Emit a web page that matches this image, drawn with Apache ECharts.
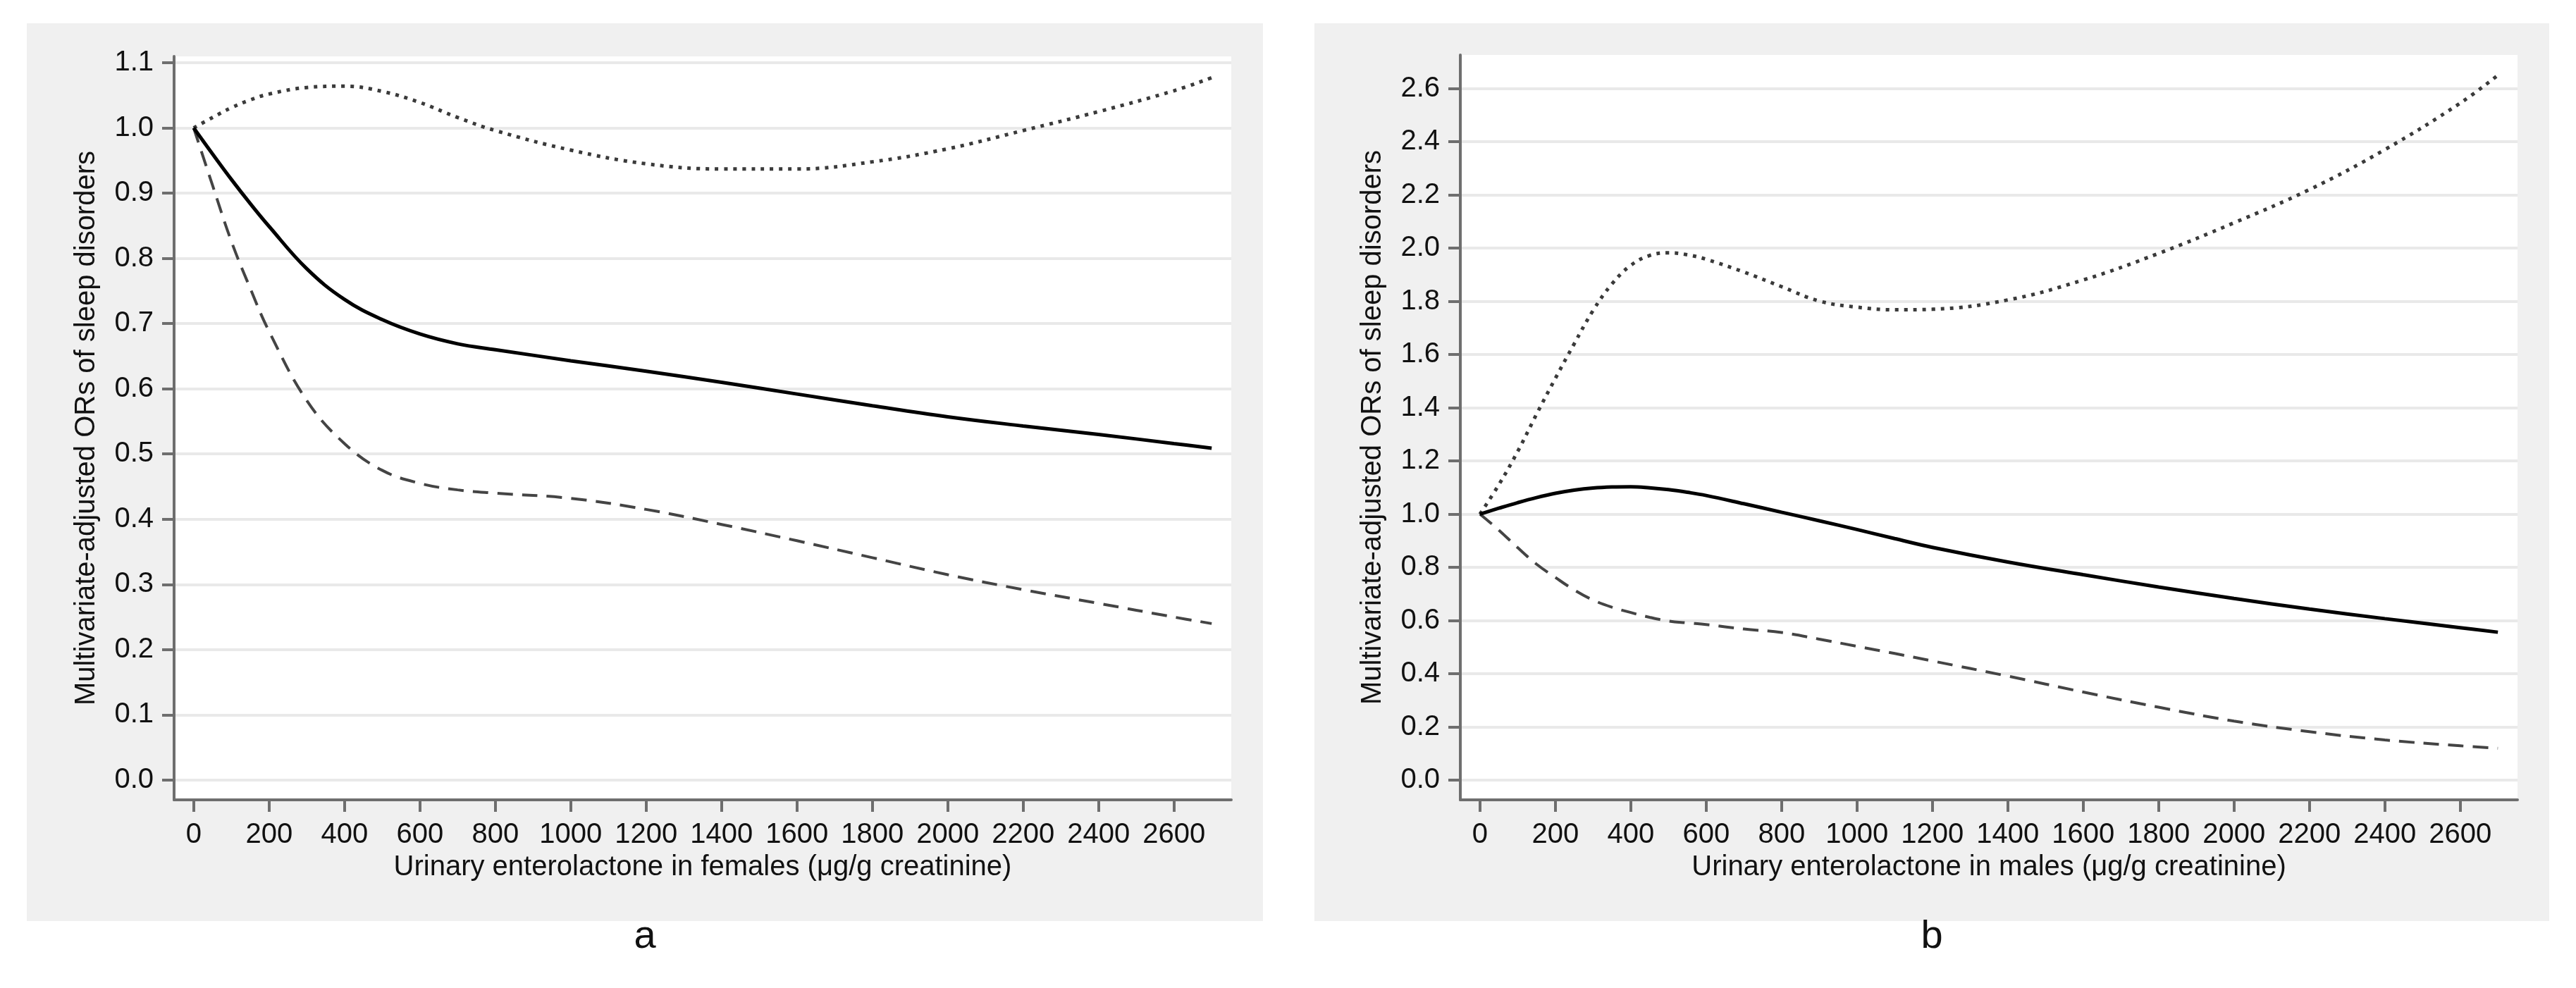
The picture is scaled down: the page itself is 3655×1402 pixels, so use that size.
<!DOCTYPE html>
<html>
<head>
<meta charset="utf-8">
<script src="https://cdn.jsdelivr.net/npm/echarts@6/dist/echarts.min.js"></script>
<style>
html,body{margin:0;padding:0;background:#fff;}
#chart{width:3655px;height:1402px;}
</style>
</head>
<body>
<div id="chart"></div>
<script>
// ---- Data ----
const xTicks = [0,200,400,600,800,1000,1200,1400,1600,1800,2000,2200,2400,2600];
const yTicksA = [0,0.1,0.2,0.3,0.4,0.5,0.6,0.7,0.8,0.9,1.0,1.1];
const yTicksB = [0,0.2,0.4,0.6,0.8,1.0,1.2,1.4,1.6,1.8,2.0,2.2,2.4,2.6];

const xA = [0,50,100,150,200,300,400,500,600,700,800,1000,1200,1400,1600,1800,2000,2200,2400,2600,2700];
const orA    = [1.0,0.960,0.921,0.884,0.849,0.784,0.737,0.706,0.684,0.669,0.660,0.643,0.627,0.610,0.592,0.574,0.557,0.543,0.530,0.516,0.509];
const lowerA = [1.0,0.912,0.826,0.754,0.688,0.582,0.516,0.475,0.455,0.445,0.440,0.432,0.415,0.392,0.367,0.341,0.315,0.292,0.271,0.250,0.240];
const upperA = [1.0,1.016,1.031,1.043,1.052,1.062,1.064,1.056,1.039,1.016,0.996,0.966,0.945,0.937,0.937,0.948,0.968,0.996,1.025,1.057,1.077];

const xB = [0,50,100,150,200,250,300,350,400,450,500,550,600,700,800,900,1000,1100,1200,1400,1600,1800,2000,2200,2400,2600,2700];
const orB    = [1.0,1.022,1.043,1.062,1.078,1.090,1.098,1.102,1.103,1.099,1.092,1.082,1.070,1.039,1.007,0.975,0.942,0.908,0.875,0.820,0.772,0.726,0.683,0.643,0.607,0.573,0.556];
const lowerB = [1.0,0.940,0.874,0.812,0.762,0.715,0.677,0.650,0.630,0.612,0.598,0.591,0.585,0.568,0.555,0.530,0.503,0.476,0.448,0.391,0.331,0.274,0.222,0.182,0.151,0.129,0.120];
const upperB = [1.0,1.110,1.235,1.375,1.510,1.640,1.765,1.865,1.935,1.972,1.982,1.975,1.958,1.910,1.855,1.801,1.778,1.768,1.770,1.805,1.880,1.980,2.095,2.220,2.370,2.545,2.650];

const xTitleA = 'Urinary enterolactone in females (μg/g creatinine)';
const xTitleB = 'Urinary enterolactone in males (μg/g creatinine)';
const yTitle = 'Multivariate-adjusted ORs of sleep disorders';

// ---- Build ----
const pairs = (xs, ys) => xs.map((x, i) => [x, ys[i]]);
const FONT = 'Liberation Sans, Arial, sans-serif';
const axisGray = '#6e6e6e';

function xAxisCfg(idx, title) {
  return {
    type: 'value', gridIndex: idx, min: -52, max: 2752,
    name: title, nameLocation: 'middle', nameGap: 76,
    nameTextStyle: {fontFamily: FONT, fontSize: 40, color: '#111'},
    axisLine: {show: true, onZero: false, lineStyle: {color: axisGray, width: 4}},
    axisTick: {show: true, customValues: xTicks, length: 17, lineStyle: {color: axisGray, width: 4}},
    axisLabel: {customValues: xTicks, margin: 30, fontFamily: FONT, fontSize: 40, color: '#111',
      formatter: v => String(Math.round(v))},
    splitLine: {show: false}
  };
}
function yAxisCfg(idx, ticks, min, max) {
  return {
    type: 'value', gridIndex: idx, min: min, max: max,
    name: yTitle, nameLocation: 'middle', nameGap: 104,
    nameTextStyle: {fontFamily: FONT, fontSize: 40, color: '#111'},
    axisLine: {show: true, onZero: false, lineStyle: {color: axisGray, width: 4}},
    axisTick: {show: true, customValues: ticks, length: 17, lineStyle: {color: axisGray, width: 4}},
    axisLabel: {customValues: ticks, margin: 29, fontFamily: FONT, fontSize: 40, color: '#111',
      formatter: v => Number(v).toFixed(1)},
    splitLine: {show: true, lineStyle: {color: '#e9e9e9', width: 4}}
  };
}
function lineSeries(idx, data, kind) {
  const styles = {
    solid: {color: '#000', width: 5, type: 'solid'},
    dash: {color: '#444', width: 4, type: [22, 13]},
    dot: {color: '#3a3a3a', width: 5, type: [5, 8]}
  };
  return {
    type: 'line', xAxisIndex: idx, yAxisIndex: idx, data: data,
    smooth: 0.4, showSymbol: false, symbol: 'none', silent: true,
    lineStyle: styles[kind], z: 5
  };
}

const option = {
  backgroundColor: '#ffffff',
  animation: false,
  graphic: {elements: [
    {type: 'rect', shape: {x: 38, y: 33, width: 1754, height: 1274}, style: {fill: '#f0f0f0'}, z: -10, silent: true},
    {type: 'rect', shape: {x: 1865, y: 33, width: 1752, height: 1274}, style: {fill: '#f0f0f0'}, z: -10, silent: true},
    {type: 'text', x: 915, y: 1330, style: {text: 'a', font: '56px ' + FONT, fill: '#111', textAlign: 'center', textVerticalAlign: 'middle'}},
    {type: 'text', x: 2741, y: 1330, style: {text: 'b', font: '56px ' + FONT, fill: '#111', textAlign: 'center', textVerticalAlign: 'middle'}}
  ]},
  grid: [
    {left: 247, top: 80, width: 1500, height: 1055, show: true, backgroundColor: '#fff', borderWidth: 0},
    {left: 2072, top: 78, width: 1500, height: 1057, show: true, backgroundColor: '#fff', borderWidth: 0}
  ],
  xAxis: [xAxisCfg(0, xTitleA), xAxisCfg(1, xTitleB)],
  yAxis: [yAxisCfg(0, yTicksA, -0.0303, 1.1097), yAxisCfg(1, yTicksB, -0.0742, 2.726)],
  series: [
    lineSeries(0, pairs(xA, upperA), 'dot'),
    lineSeries(0, pairs(xA, lowerA), 'dash'),
    lineSeries(0, pairs(xA, orA), 'solid'),
    lineSeries(1, pairs(xB, upperB), 'dot'),
    lineSeries(1, pairs(xB, lowerB), 'dash'),
    lineSeries(1, pairs(xB, orB), 'solid')
  ]
};
const chart = echarts.init(document.getElementById('chart'), null, {renderer: 'canvas'});
chart.setOption(option);
</script>
</body>
</html>
